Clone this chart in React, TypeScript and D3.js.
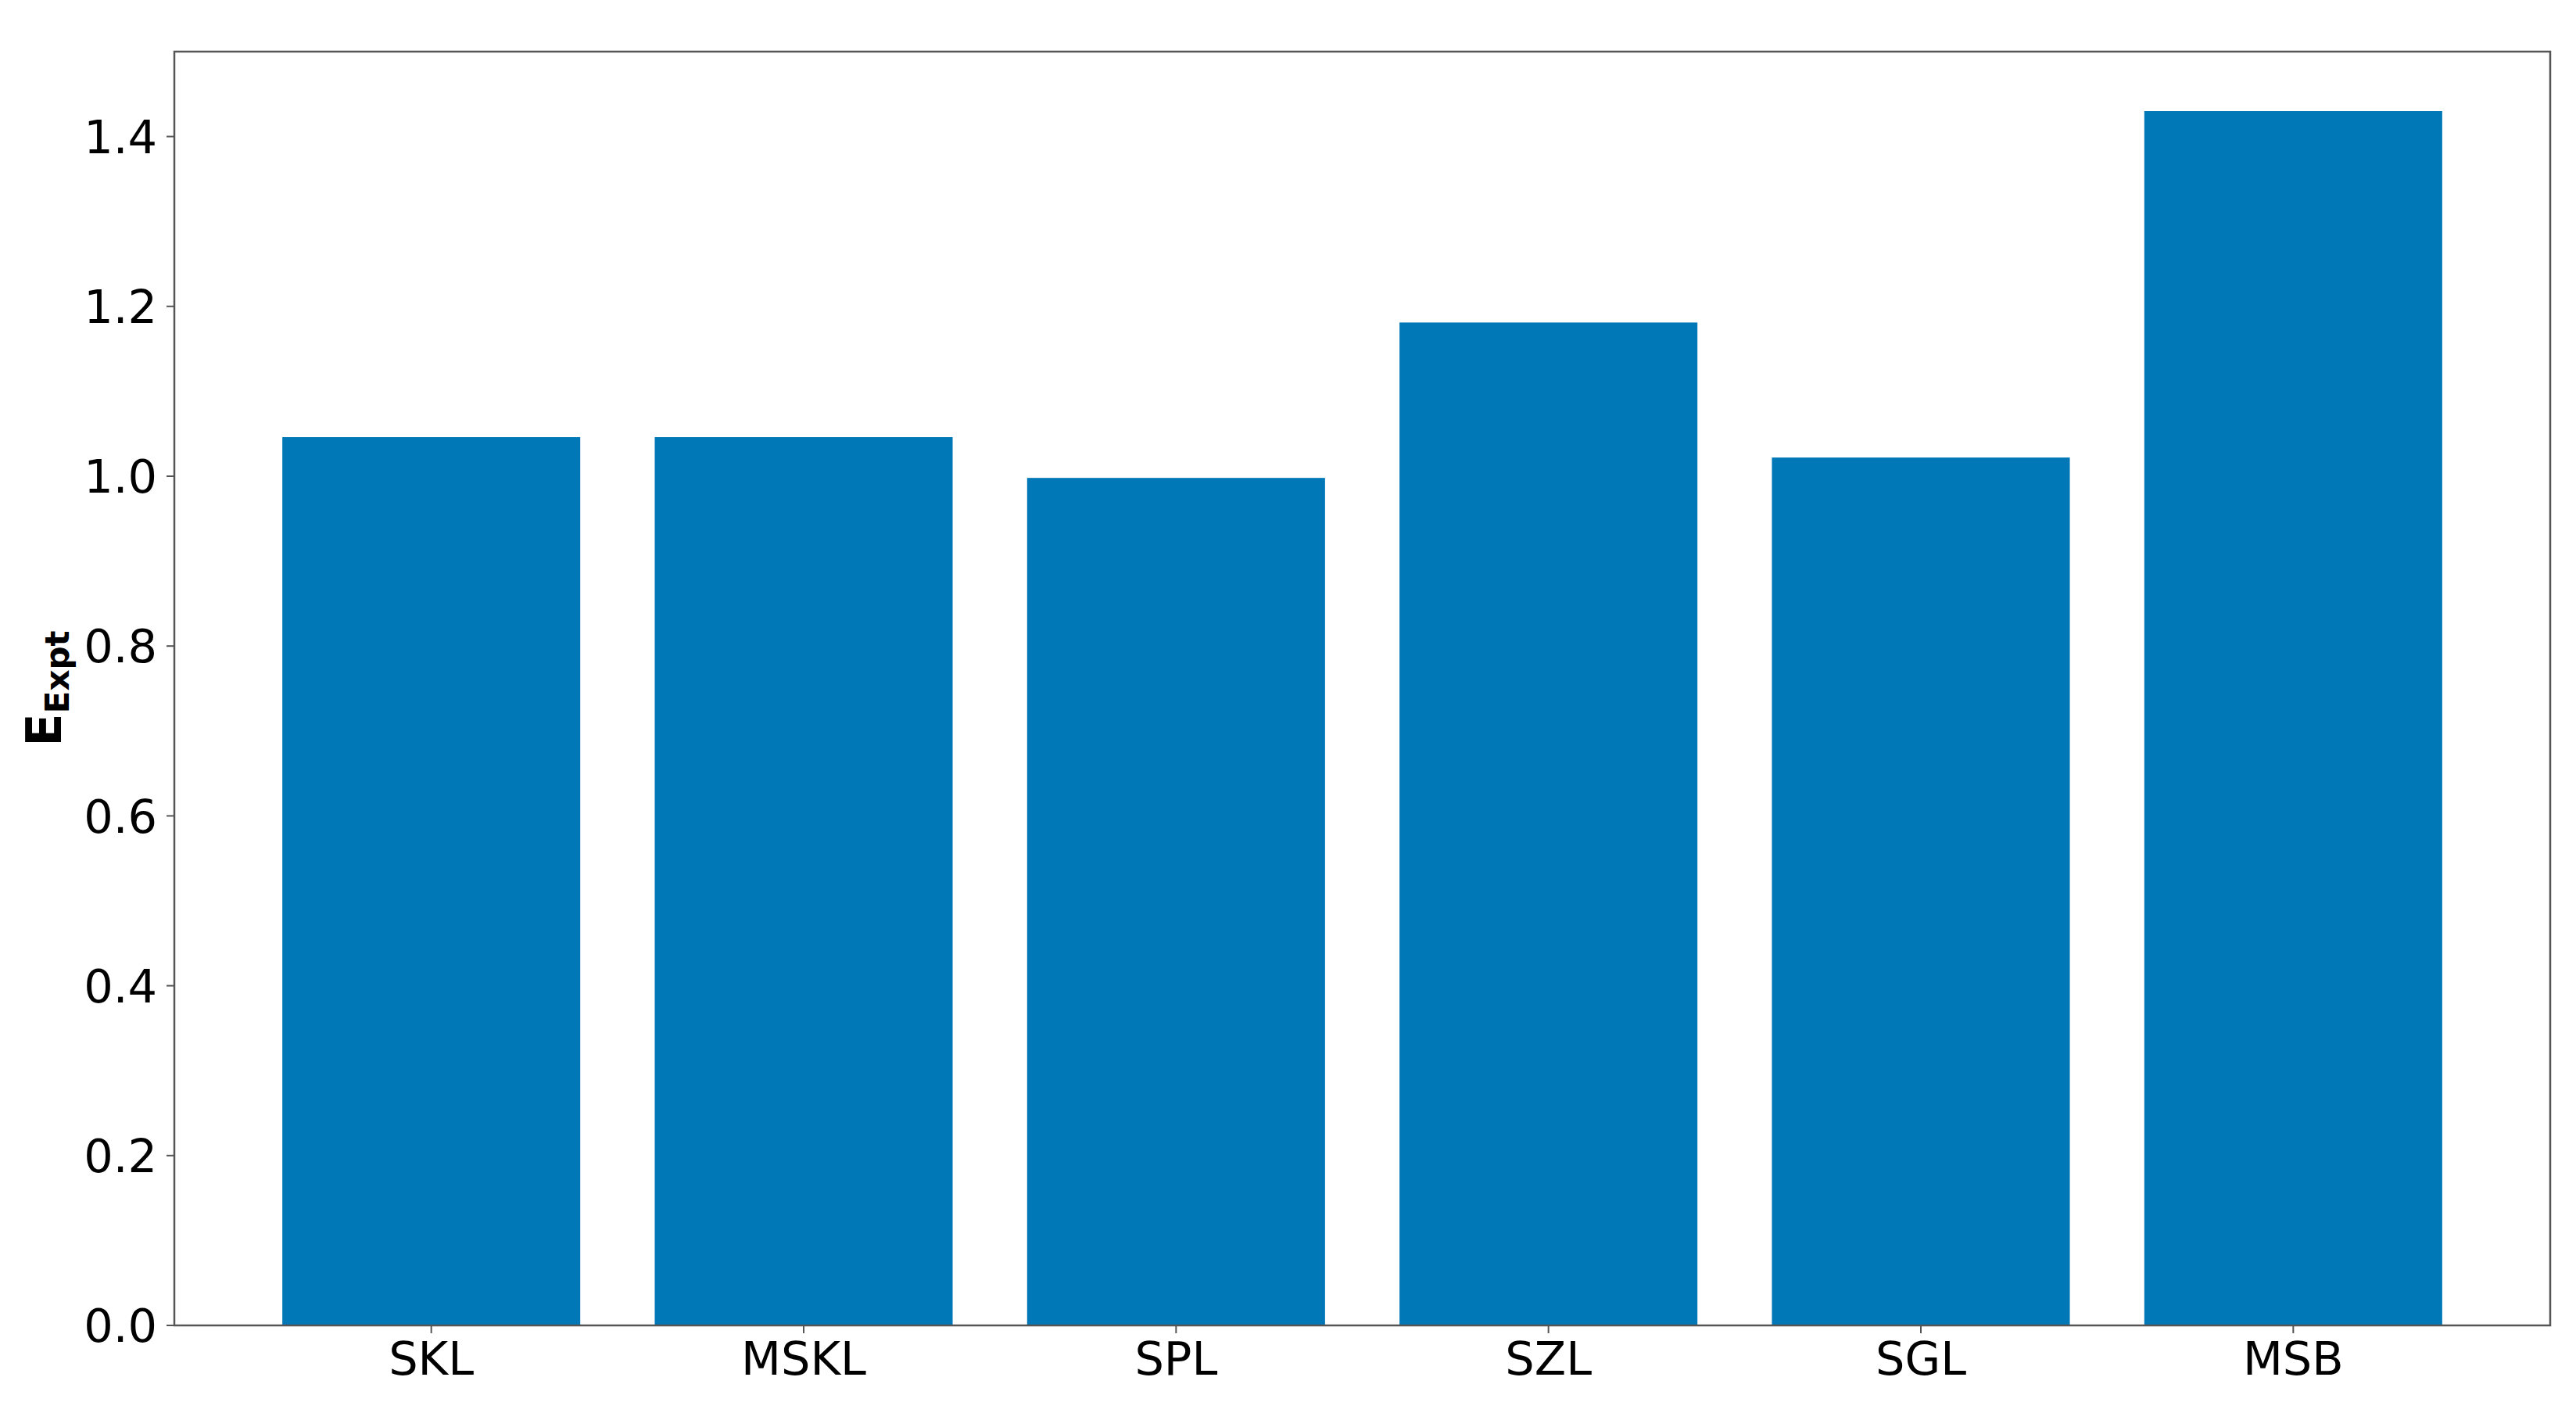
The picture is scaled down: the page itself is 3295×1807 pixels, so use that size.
import React, { useRef, useEffect } from "react";
import * as d3 from "d3";

const categories = ["SKL", "MSKL", "SPL", "SZL", "SGL", "MSB"];
const values = [1.046, 1.046, 0.998, 1.181, 1.022, 1.43];
const yTicks = [0.0, 0.2, 0.4, 0.6, 0.8, 1.0, 1.2, 1.4];

function App() {
  const svgRef = useRef<SVGSVGElement>(null);

  useEffect(() => {
    document.body.style.margin = "0";
    const svg = d3.select(svgRef.current);
    svg.selectAll("*").remove();

    const width = 3295;
    const height = 1807;
    const margin = { top: 66, right: 33, bottom: 112, left: 223 };
    const innerWidth = width - margin.left - margin.right;
    const innerHeight = height - margin.top - margin.bottom;
    const font = "'DejaVu Sans', sans-serif";
    const axisColor = "#555";

    // matplotlib style: 0.8 wide bars at integer positions, 5% margins
    const xScale = d3
      .scaleLinear()
      .domain([-0.69, categories.length - 1 + 0.69])
      .range([0, innerWidth]);
    const yScale = d3.scaleLinear().domain([0, 1.5]).range([innerHeight, 0]);
    const barW = xScale(0.8) - xScale(0);

    const g = svg
      .append("g")
      .attr("transform", `translate(${margin.left}, ${margin.top})`);

    // bars
    g.selectAll(".bar")
      .data(values)
      .enter()
      .append("rect")
      .attr("class", "bar")
      .attr("x", (d, i) => xScale(i) - barW / 2)
      .attr("y", (d) => yScale(d))
      .attr("width", barW)
      .attr("height", (d) => yScale(0) - yScale(d))
      .attr("fill", "#0077b6");

    // frame
    g.append("rect")
      .attr("x", 0)
      .attr("y", 0)
      .attr("width", innerWidth)
      .attr("height", innerHeight)
      .attr("fill", "none")
      .attr("stroke", axisColor)
      .attr("stroke-width", 2.5);

    // y ticks
    const yt = g
      .selectAll(".ytick")
      .data(yTicks)
      .enter()
      .append("g")
      .attr("transform", (d) => `translate(0, ${yScale(d)})`);
    yt.append("line")
      .attr("x1", -10)
      .attr("x2", 0)
      .attr("stroke", axisColor)
      .attr("stroke-width", 2);
    yt.append("text")
      .attr("x", -22)
      .attr("dy", "0.36em")
      .attr("text-anchor", "end")
      .attr("font-family", font)
      .attr("font-size", 59)
      .attr("fill", "#000")
      .text((d) => d.toFixed(1));

    // x ticks
    const xt = g
      .selectAll(".xtick")
      .data(categories)
      .enter()
      .append("g")
      .attr("transform", (d, i) => `translate(${xScale(i)}, ${innerHeight})`);
    xt.append("line")
      .attr("y1", 0)
      .attr("y2", 10)
      .attr("stroke", axisColor)
      .attr("stroke-width", 2);
    xt.append("text")
      .attr("y", 63)
      .attr("text-anchor", "middle")
      .attr("font-family", font)
      .attr("font-size", 59)
      .attr("fill", "#000")
      .text((d) => d);

    // y label: bold E with subscript Expt
    const label = svg
      .append("text")
      .attr("transform", `translate(78, ${margin.top + innerHeight / 2}) rotate(-90)`)
      .attr("text-anchor", "middle")
      .attr("font-family", font)
      .attr("font-weight", "bold")
      .attr("fill", "#000");
    label.append("tspan").attr("font-size", 62).text("E");
    label
      .append("tspan")
      .attr("font-size", 42)
      .attr("dy", 10)
      .text("Expt");
  }, []);

  return (
    <svg
      ref={svgRef}
      width={3295}
      height={1807}
      style={{ display: "block", background: "#fff" }}
    ></svg>
  );
}

export default App;
